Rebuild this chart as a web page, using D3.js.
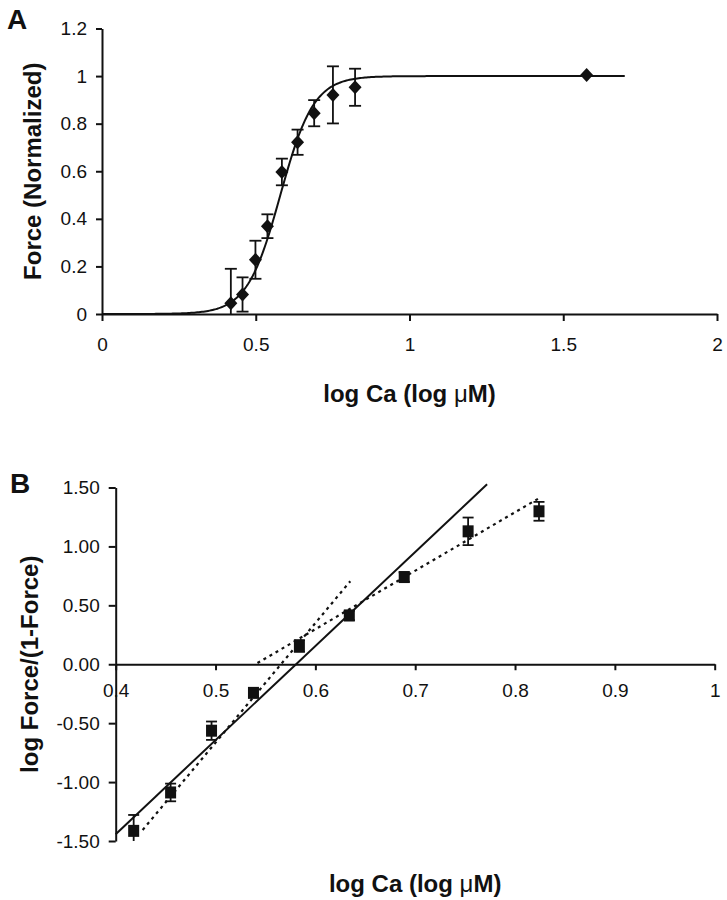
<!DOCTYPE html>
<html>
<head>
<meta charset="utf-8">
<script src="https://cdn.jsdelivr.net/npm/d3@7"></script>
<style>
  body { margin: 0; background: #fff; }
  svg { display: block; }
  .axis .tick text { font-family: "Liberation Sans", Arial, sans-serif; font-size: 19px; fill: #111; }
  .axis path, .axis line { stroke: #111; stroke-width: 2; }
  .title { font-family: "Liberation Sans", Arial, sans-serif; font-size: 24px; font-weight: bold; fill: #111; }
  .panel { font-family: "Liberation Sans", Arial, sans-serif; font-size: 28px; font-weight: bold; fill: #111; }
</style>
</head>
<body>
<div id="graph"></div>
<script>
;(function (window) {
"use strict";

// panel A: normalized force vs log Ca
var logCaA = [0.419, 0.457, 0.499, 0.538, 0.585, 0.636, 0.690, 0.751, 0.823, 1.576];
var forceA = [0.045, 0.082, 0.228, 0.369, 0.597, 0.722, 0.844, 0.921, 0.953, 1.005];
var forceErrA = [0.145, 0.072, 0.080, 0.050, 0.056, 0.053, 0.055, 0.120, 0.078, 0];
// Hill fit through panel A
var hillN = 8.0;
var hillLogCa50 = 0.58;
var hillRange = [0, 1.7];
var xTicksA = [0, 0.5, 1, 1.5, 2];
var xTickLabelsA = ["0", "0.5", "1", "1.5", "2"];
var yTicksA = [0, 0.2, 0.4, 0.6, 0.8, 1, 1.2];
var yTickLabelsA = ["0", "0.2", "0.4", "0.6", "0.8", "1", "1.2"];

// panel B: Hill plot
var logCaB = [0.418, 0.455, 0.496, 0.538, 0.584, 0.634, 0.689, 0.753, 0.824];
var logRatioB = [-1.414, -1.088, -0.564, -0.243, 0.155, 0.414, 0.740, 1.128, 1.298];
var logRatioErrB = [0.135, 0.075, 0.078, 0.030, 0.050, 0.040, 0.040, 0.117, 0.080];
// fitted lines, end points
var fitAllX = [0.4, 0.772];
var fitAllY = [-1.442, 1.527];
var fitLowX = [0.427, 0.635];
var fitLowY = [-1.406, 0.705];
var fitHighX = [0.542, 0.826];
var fitHighY = [0.010, 1.419];
var xTicksB = [0.4, 0.5, 0.6, 0.7, 0.8, 0.9, 1];
var xTickLabelsB = ["0.4", "0.5", "0.6", "0.7", "0.8", "0.9", "1"];
var yTicksB = [-1.5, -1, -0.5, 0, 0.5, 1, 1.5];
var yTickLabelsB = ["-1.50", "-1.00", "-0.50", "0.00", "0.50", "1.00", "1.50"];

var svg = d3.select("#graph").append("svg")
  .attr("width", 727)
  .attr("height", 900);

svg.append("rect").attr("width", 727).attr("height", 900).attr("fill", "#fff");

// draws vertical error bars, no cap where the bar runs off the plot
function errorBars(g, xs, ys, errs, x, y, capHalf) {
  var dom = y.domain();
  var lo = Math.min(dom[0], dom[1]), hi = Math.max(dom[0], dom[1]);
  xs.forEach(function (xv, i) {
    if (!errs[i]) return;
    var top = ys[i] + errs[i], bot = ys[i] - errs[i];
    var t = Math.min(top, hi), b = Math.max(bot, lo);
    var px = x(xv);
    g.append("line")
      .attr("x1", px).attr("x2", px)
      .attr("y1", y(t)).attr("y2", y(b))
      .attr("stroke", "#111").attr("stroke-width", 1.8);
    [[top, t], [bot, b]].forEach(function (p) {
      if (p[0] !== p[1]) return;
      g.append("line")
        .attr("x1", px - capHalf).attr("x2", px + capHalf)
        .attr("y1", y(p[0])).attr("y2", y(p[0]))
        .attr("stroke", "#111").attr("stroke-width", 1.8);
    });
  });
}

//---------------- panel A
var xA = d3.scaleLinear().domain([0, 2]).range([102, 717]);
var yA = d3.scaleLinear().domain([0, 1.2]).range([314, 28.5]);

var gA = svg.append("g");

gA.append("g")
  .attr("class", "axis")
  .attr("transform", "translate(0," + yA(0) + ")")
  .call(d3.axisBottom(xA).tickValues(xTicksA).tickSize(7).tickSizeOuter(0).tickPadding(17)
    .tickFormat(function (d, i) { return xTickLabelsA[i]; }));

gA.append("g")
  .attr("class", "axis")
  .attr("transform", "translate(" + xA(0) + ",0)")
  .call(d3.axisLeft(yA).tickValues(yTicksA).tickSize(6).tickSizeOuter(0).tickPadding(9)
    .tickFormat(function (d, i) { return yTickLabelsA[i]; }));

var hillX = d3.range(hillRange[0], hillRange[1] + 0.0001, 0.005);
var hillLine = d3.line()
  .x(function (d) { return xA(d); })
  .y(function (d) { return yA(1 / (1 + Math.pow(10, -hillN * (d - hillLogCa50)))); });

gA.append("path")
  .datum(hillX)
  .attr("d", hillLine)
  .attr("fill", "none")
  .attr("stroke", "#111")
  .attr("stroke-width", 2);

errorBars(gA, logCaA, forceA, forceErrA, xA, yA, 6);

gA.selectAll("path.diamond")
  .data(logCaA)
  .enter().append("path")
  .attr("class", "diamond")
  .attr("transform", function (d, i) { return "translate(" + xA(d) + "," + yA(forceA[i]) + ")"; })
  .attr("d", "M0,-7L6.5,0L0,7L-6.5,0Z")
  .attr("fill", "#111");

gA.append("text")
  .attr("class", "title")
  .attr("text-anchor", "middle")
  .attr("transform", "translate(41," + (yA(0) + yA(1.2)) / 2 + ") rotate(-90)")
  .text("Force (Normalized)");

var tA = gA.append("text")
  .attr("class", "title")
  .attr("text-anchor", "middle")
  .attr("x", (xA(0) + xA(2)) / 2)
  .attr("y", 402);
tA.append("tspan").text("log Ca (log ");
tA.append("tspan").attr("font-weight", "normal").text("\u03bc");
tA.append("tspan").text("M)");

svg.append("text").attr("class", "panel").attr("x", 7).attr("y", 29).text("A");

//---------------- panel B
var xB = d3.scaleLinear().domain([0.4, 1]).range([115.7, 714.7]);
var yB = d3.scaleLinear().domain([-1.5, 1.5]).range([841, 487.5]);

var gB = svg.append("g");

gB.append("g")
  .attr("class", "axis")
  .attr("transform", "translate(0," + yB(0) + ")")
  .call(d3.axisBottom(xB).tickValues(xTicksB).tickSize(6).tickSizeOuter(0).tickPadding(13)
    .tickFormat(function (d, i) { return xTickLabelsB[i]; }));

gB.append("g")
  .attr("class", "axis")
  .attr("transform", "translate(" + xB(0.4) + ",0)")
  .call(d3.axisLeft(yB).tickValues(yTicksB).tickSize(7).tickSizeOuter(0).tickPadding(9)
    .tickFormat(function (d, i) { return yTickLabelsB[i]; }));

var fitLine = d3.line()
  .x(function (d) { return xB(d[0]); })
  .y(function (d) { return yB(d[1]); });

function fitPoints(xs, ys) { return xs.map(function (v, i) { return [v, ys[i]]; }); }

gB.append("path")
  .datum(fitPoints(fitAllX, fitAllY))
  .attr("d", fitLine)
  .attr("fill", "none").attr("stroke", "#111").attr("stroke-width", 2);

[[fitLowX, fitLowY], [fitHighX, fitHighY]].forEach(function (f) {
  gB.append("path")
    .datum(fitPoints(f[0], f[1]))
    .attr("d", fitLine)
    .attr("fill", "none").attr("stroke", "#111").attr("stroke-width", 2.2)
    .attr("stroke-dasharray", "3,4");
});

errorBars(gB, logCaB, logRatioB, logRatioErrB, xB, yB, 5.5);

gB.selectAll("rect.pt")
  .data(logCaB)
  .enter().append("rect")
  .attr("class", "pt")
  .attr("x", function (d) { return xB(d) - 5.5; })
  .attr("y", function (d, i) { return yB(logRatioB[i]) - 6; })
  .attr("width", 11)
  .attr("height", 12)
  .attr("fill", "#111");

gB.append("text")
  .attr("class", "title")
  .attr("text-anchor", "middle")
  .attr("transform", "translate(38," + (yB(-1.5) + yB(1.5)) / 2 + ") rotate(-90)")
  .text("log Force/(1-Force)");

var tB = gB.append("text")
  .attr("class", "title")
  .attr("text-anchor", "middle")
  .attr("x", (xB(0.4) + xB(1)) / 2)
  .attr("y", 892);
tB.append("tspan").text("log Ca (log ");
tB.append("tspan").attr("font-weight", "normal").text("\u03bc");
tB.append("tspan").text("M)");

svg.append("text").attr("class", "panel").attr("x", 10).attr("y", 493).text("B");

})(window);
</script>
</body>
</html>
